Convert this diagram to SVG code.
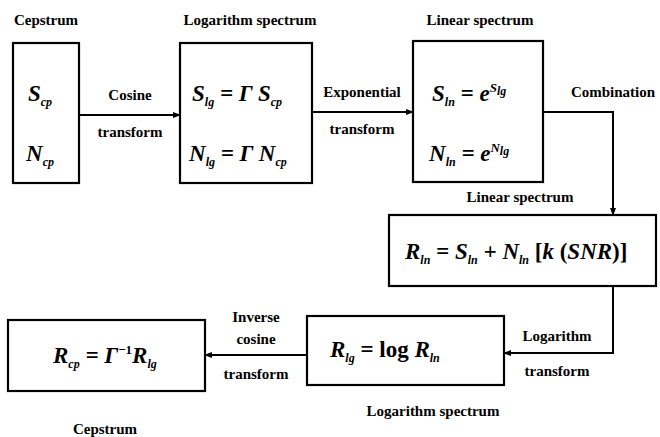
<svg xmlns="http://www.w3.org/2000/svg" width="660" height="437" viewBox="0 0 660 437">
<style>
.box{fill:#fff;stroke:#000;stroke-width:2.2}
.ln{fill:none;stroke:#000;stroke-width:2}
.lbl{font-family:"Liberation Serif","Times New Roman","DejaVu Serif",serif;font-weight:bold;font-size:15px;fill:#000;text-anchor:middle}
.f{font-family:"Liberation Serif","Times New Roman","DejaVu Serif",serif;font-style:italic;font-weight:bold;font-size:23px;fill:#000}
.s{font-size:12px}
.up{font-size:13px}
.r{font-style:normal}
</style>
<defs>
<marker id="ah" markerWidth="8" markerHeight="8" refX="7" refY="4" orient="auto" markerUnits="userSpaceOnUse">
<path d="M0,1 L8,4 L0,7 Z" fill="#000"/>
</marker>
</defs>
<rect width="660" height="437" fill="#fff"/>
<g id="connectors">
<line class="ln" x1="79" y1="115" x2="180" y2="115" marker-end="url(#ah)"/>
<line class="ln" x1="312" y1="112" x2="413" y2="112" marker-end="url(#ah)"/>
<polyline class="ln" points="543,112 613,112 613,215" marker-end="url(#ah)"/>
<polyline class="ln" points="613,286 613,353 504,353" marker-end="url(#ah)"/>
<line class="ln" x1="307" y1="355" x2="205" y2="355" marker-end="url(#ah)"/>
<text class="lbl" x="130" y="100">Cosine</text>
<text class="lbl" x="130" y="137">transform</text>
<text class="lbl" x="362" y="97">Exponential</text>
<text class="lbl" x="362" y="134">transform</text>
<text class="lbl" x="613" y="97">Combination</text>
<text class="lbl" x="557" y="341">Logarithm</text>
<text class="lbl" x="557" y="376">transform</text>
<text class="lbl" x="256" y="322">Inverse</text>
<text class="lbl" x="256" y="344">cosine</text>
<text class="lbl" x="256" y="379">transform</text>
</g>
<g id="cepstrum1">
<text class="lbl" x="46" y="25">Cepstrum</text>
<rect class="box" x="13" y="43" width="66" height="140"/>
<text class="f" x="28" y="101">S<tspan class="s" dy="5">cp</tspan></text>
<text class="f" x="26" y="161">N<tspan class="s" dy="5">cp</tspan></text>
</g>
<g id="logspec1">
<text class="lbl" x="250" y="25">Logarithm spectrum</text>
<rect class="box" x="180" y="43" width="132" height="140"/>
<text class="f" x="192" y="101">S<tspan class="s" dy="5">lg</tspan><tspan dy="-5"> = Γ S</tspan><tspan class="s" dy="5">cp</tspan></text>
<text class="f" x="189" y="161">N<tspan class="s" dy="5">lg</tspan><tspan dy="-5"> = Γ N</tspan><tspan class="s" dy="5">cp</tspan></text>
</g>
<g id="linspec1">
<text class="lbl" x="480" y="25">Linear spectrum</text>
<rect class="box" x="413" y="41" width="130" height="141"/>
<text class="f" x="432" y="101">S<tspan class="s" dy="5">ln</tspan><tspan dy="-5"> = e</tspan><tspan class="up" dy="-9">S</tspan><tspan class="s" dy="3">lg</tspan></text>
<text class="f" x="429" y="161">N<tspan class="s" dy="5">ln</tspan><tspan dy="-5"> = e</tspan><tspan class="up" dy="-9">N</tspan><tspan class="s" dy="3">lg</tspan></text>
</g>
<g id="combined">
<text class="lbl" x="520" y="202">Linear spectrum</text>
<rect class="box" x="389" y="215" width="267" height="71"/>
<text class="f" x="405" y="259">R<tspan class="s" dy="5">ln</tspan><tspan dy="-5"> = S</tspan><tspan class="s" dy="5">ln</tspan><tspan dy="-5"> + N</tspan><tspan class="s" dy="5">ln</tspan><tspan dy="-5" class="r"> [</tspan>k <tspan class="r">(</tspan>SNR<tspan class="r">)]</tspan></text>
</g>
<g id="logspec2">
<rect class="box" x="307" y="316" width="197" height="69"/>
<text class="f" x="330" y="357">R<tspan class="s" dy="5">lg</tspan><tspan dy="-5" class="r"> = log </tspan>R<tspan class="s" dy="5">ln</tspan></text>
<text class="lbl" x="433" y="416">Logarithm spectrum</text>
</g>
<g id="cepstrum2">
<rect class="box" x="8" y="320" width="197" height="71"/>
<text class="f" x="53" y="363">R<tspan class="s" dy="5">cp</tspan><tspan dy="-5"> = Γ</tspan><tspan class="up r" dy="-9">−1</tspan><tspan dy="9">R</tspan><tspan class="s" dy="5">lg</tspan></text>
<text class="lbl" x="105" y="434">Cepstrum</text>
</g>
</svg>
